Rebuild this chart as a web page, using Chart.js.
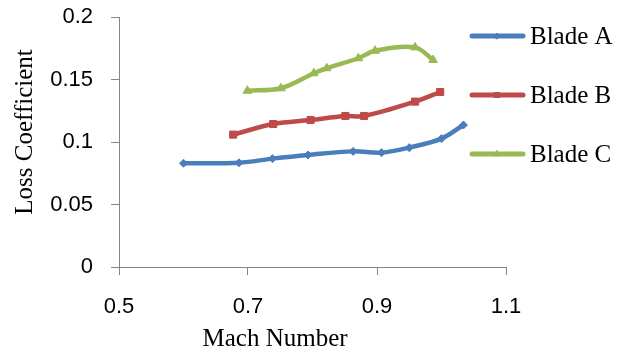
<!DOCTYPE html>
<html>
<head>
<meta charset="utf-8">
<script src="https://cdn.jsdelivr.net/npm/chart.js@4/dist/chart.umd.min.js"></script>
<style>
  html, body { margin: 0; padding: 0; background: #fff; }
  #wrap { width: 620px; height: 358px; position: relative; }
</style>
</head>
<body>
<div id="wrap"><canvas id="lossChart"></canvas></div>
<script>
// --- data ---
const seriesNames = ['Blade A', 'Blade B', 'Blade C'];
const machA = [0.600, 0.686, 0.738, 0.793, 0.863, 0.907, 0.950, 1.000, 1.034];
const lossA = [0.0830, 0.0834, 0.0867, 0.0896, 0.0925, 0.0915, 0.0955, 0.1027, 0.1136];
const machB = [0.677, 0.739, 0.797, 0.851, 0.880, 0.959, 0.998];
const lossB = [0.1059, 0.1144, 0.1176, 0.1208, 0.1208, 0.1323, 0.1400];
const machC = [0.699, 0.751, 0.802, 0.822, 0.871, 0.897, 0.959, 0.987];
const lossC = [0.1410, 0.1430, 0.1550, 0.1590, 0.1670, 0.1730, 0.1757, 0.1656];
const xTicks = [0.5, 0.7, 0.9, 1.1];
const yTicks = [0, 0.05, 0.1, 0.15, 0.2];
const xLabels = ['0.5', '0.7', '0.9', '1.1'];
const yLabels = ['0', '0.05', '0.1', '0.15', '0.2'];

const colors = ['#4A7EBB', '#BE4B48', '#98B954'];
const markers = ['rectRot', 'rect', 'triangle'];
const markerSize = [4, 5, 5];

const toPoints = (xs, ys) => xs.map((x, i) => ({ x: x, y: ys[i] }));
const allSeries = [toPoints(machA, lossA), toPoints(machB, lossB), toPoints(machC, lossC)];

const axisGray = '#868686';
const serif = '"Liberation Serif", "Times New Roman", serif';
const sans = '"Liberation Sans", Arial, sans-serif';

// axis titles + legend drawn by hand so they sit where the original has them
const decorations = {
    id: 'decorations',
    afterDraw(chart) {
        const ctx = chart.ctx;
        ctx.save();
        ctx.fillStyle = '#000';
        ctx.font = '25px ' + serif;
        ctx.textAlign = 'center';
        ctx.textBaseline = 'middle';
        ctx.fillText('Mach Number', 275, 339);
        ctx.translate(25, 132);
        ctx.rotate(-Math.PI / 2);
        ctx.fillText('Loss Coefficient', 0, 0);
        ctx.restore();

        // legend
        const rows = [36, 95, 154];
        const legendMarker = [3, 3.5, 3.5];
        chart.data.datasets.forEach((ds, i) => {
            const y = rows[i];
            ctx.save();
            ctx.strokeStyle = ds.borderColor;
            ctx.fillStyle = ds.borderColor;
            ctx.lineWidth = 5;
            ctx.lineCap = 'round';
            ctx.beginPath();
            ctx.moveTo(472, y);
            ctx.lineTo(523, y);
            ctx.stroke();
            ctx.lineWidth = 1;
            Chart.helpers.drawPoint(ctx, {
                pointStyle: ds.pointStyle, radius: legendMarker[i], borderWidth: 1
            }, 497, y);
            ctx.fillStyle = '#000';
            ctx.font = '25px ' + serif;
            ctx.textAlign = 'left';
            ctx.textBaseline = 'middle';
            ctx.fillText(seriesNames[i], 530, y + 1);
            ctx.restore();
        });
    }
};

new Chart(document.getElementById('lossChart'), {
    type: 'line',
    data: {
        datasets: allSeries.map((pts, i) => ({
            label: seriesNames[i],
            data: pts,
            borderColor: colors[i],
            backgroundColor: colors[i],
            borderWidth: 4.5,
            tension: 0.35,
            pointStyle: markers[i],
            pointRadius: markerSize[i],
            pointBorderWidth: 1,
            pointBackgroundColor: colors[i],
            pointBorderColor: colors[i],
            fill: false
        }))
    },
    options: {
        responsive: true,
        maintainAspectRatio: false,
        animation: false,
        layout: { padding: { left: 0, top: 17, right: 114, bottom: 0 } },
        plugins: { legend: { display: false }, tooltip: { enabled: false } },
        scales: {
            x: {
                type: 'linear',
                min: 0.5, max: 1.1,
                afterBuildTicks: (axis) => { axis.ticks = xTicks.map(v => ({ value: v })); },
                afterFit: (axis) => { axis.height = 91; axis.paddingLeft = 0; axis.paddingRight = 0; },
                grid: { drawOnChartArea: false, drawTicks: true, tickLength: 8, color: axisGray },
                border: { color: axisGray, width: 1 },
                ticks: {
                    color: '#000', padding: 19,
                    font: { family: sans, size: 22 },
                    callback: (v) => xLabels[xTicks.indexOf(v)]
                }
            },
            y: {
                min: 0, max: 0.2,
                afterBuildTicks: (axis) => { axis.ticks = yTicks.map(v => ({ value: v })); },
                afterFit: (axis) => { axis.width = 119; axis.paddingTop = 0; axis.paddingBottom = 0; },
                grid: { drawOnChartArea: false, drawTicks: true, tickLength: 8, color: axisGray },
                border: { color: axisGray, width: 1 },
                ticks: {
                    color: '#000', padding: 18,
                    font: { family: sans, size: 22 },
                    callback: (v) => yLabels[yTicks.indexOf(v)]
                }
            }
        }
    },
    plugins: [decorations]
});
</script>
</body>
</html>
